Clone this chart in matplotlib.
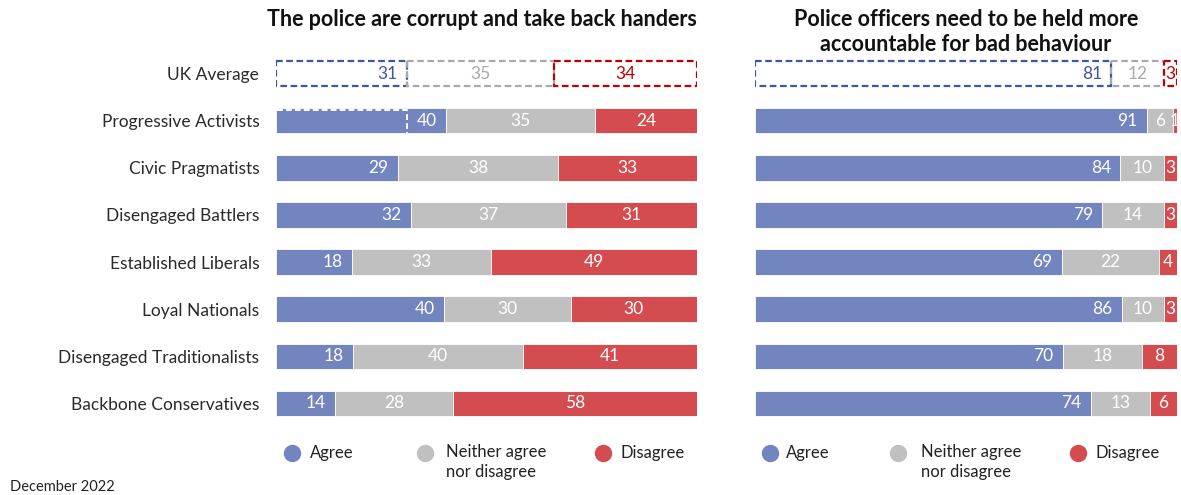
import matplotlib
matplotlib.use("Agg")
import matplotlib.pyplot as plt
import numpy as np

plt.rcParams['font.family'] = ['Lato', 'DejaVu Sans']

groups = ['UK Average', 'Progressive Activists', 'Civic Pragmatists', 'Disengaged Battlers',
          'Established Liberals', 'Loyal Nationals', 'Disengaged Traditionalists',
          'Backbone Conservatives']

# Agree / Neither / Disagree
corrupt_agree = [31, 40, 29, 32, 18, 40, 18, 14]
corrupt_neither = [35, 35, 38, 37, 33, 30, 40, 28]
corrupt_disagree = [34, 24, 33, 31, 49, 30, 41, 58]

account_agree = [81, 91, 84, 79, 69, 86, 70, 74]
account_neither = [12, 6, 10, 14, 22, 10, 18, 13]
account_disagree = [3, 1, 3, 3, 4, 3, 8, 6]

titles = ['The police are corrupt and take back handers',
          'Police officers need to be held more\naccountable for bad behaviour']

fill_cols = ['#7385bf', '#c0c0c0', '#d44c4f']
avg_cols = ['#3f55a5', '#a9a9a9', '#c00000']
legend_labels = ['Agree', 'Neither agree\nnor disagree', 'Disagree']

W, H = 1181, 495
fig = plt.figure(figsize=(W / 100, H / 100), dpi=100)

def px_axes(x0, x1, y0, y1):
    return fig.add_axes([x0 / W, 1 - y1 / H, (x1 - x0) / W, (y1 - y0) / H])

ax_l = px_axes(276, 697, 50, 427)
ax_r = px_axes(755, 1177, 50, 427)

panels = [
    (ax_l, [corrupt_agree, corrupt_neither, corrupt_disagree],
     [(0.038, 0.081), (0.354, 0.404), (0.777, 0.819)]),
    (ax_r, [account_agree, account_neither, account_disagree],
     [(0.0355, 0.073), (0.339, 0.393), (0.765, 0.808)]),
]

bar_h = 0.54
leg_y = -0.069
for ax, series, leg_pos in panels:
    vals = np.array(series, dtype=float)  # shape (3, n)
    totals = vals.sum(axis=0)
    shares = vals / totals * 100
    y = np.arange(len(groups))
    left = np.zeros(len(groups))
    for k in range(3):
        w = shares[k]
        # rows below the average are solid
        ax.barh(y[1:], w[1:], left=left[1:], height=bar_h, color=fill_cols[k],
                edgecolor='white', linewidth=0.6)
        # UK average as dashed outline
        ax.barh(y[0], w[0], left=left[0], height=bar_h, fill=False,
                edgecolor=avg_cols[k], linestyle=(0, (3, 1.6)), linewidth=1.6)
        for i in range(len(groups)):
            if k == 0:
                xt, ha = left[i] + w[i] - 2.2, 'right'
            else:
                xt, ha = left[i] + w[i] / 2, 'center'
            col = avg_cols[k] if i == 0 else 'white'
            ax.text(xt, y[i], f'{int(vals[k][i])}', ha=ha, va='center',
                    color=col, fontsize=12.5)
        left = left + w

    ax.set_xlim(0, 100)
    ax.set_ylim(len(groups) - 0.5, -0.5)
    ax.set_xticks([])
    for s in ax.spines.values():
        s.set_visible(False)

    for k in range(3):
        mx, tx = leg_pos[k]
        ax.plot([mx], [leg_y], 'o', color=fill_cols[k], markersize=11.5,
                transform=ax.transAxes, clip_on=False)
        if '\n' in legend_labels[k]:
            ax.text(tx, leg_y + 0.024, legend_labels[k], transform=ax.transAxes,
                    ha='left', va='top', fontsize=12, color='#222222',
                    linespacing=1.3)
        else:
            ax.text(tx, leg_y, legend_labels[k], transform=ax.transAxes,
                    ha='left', va='center', fontsize=12, color='#222222')

# white dashed edge left over on the Progressive Activists bar
ax_l.plot([0.3, 31, 31], [1 - bar_h / 2 + 0.04, 1 - bar_h / 2 + 0.04, 1 + bar_h / 2],
          color='white', linestyle=(0, (3, 1.6)), linewidth=1.4)

ax_l.set_yticks(np.arange(len(groups)))
ax_l.set_yticklabels(groups, fontsize=12.5, color='#2a2a2a')
ax_l.tick_params(axis='y', length=0, pad=12)
ax_r.set_yticks([])

fig.text(482 / W, 1 - 20 / H, titles[0], ha='center', va='center',
         fontsize=15.5, fontweight='bold', color='#111111')
fig.text(966 / W, 1 - 32 / H, titles[1], ha='center', va='center',
         fontsize=15.5, fontweight='bold', color='#111111', linespacing=1.2)
fig.text(10 / W, 1 - 487 / H, 'December 2022', ha='left', va='center',
         fontsize=10.5, color='#222222')

fig.savefig('out.png', dpi=100)
